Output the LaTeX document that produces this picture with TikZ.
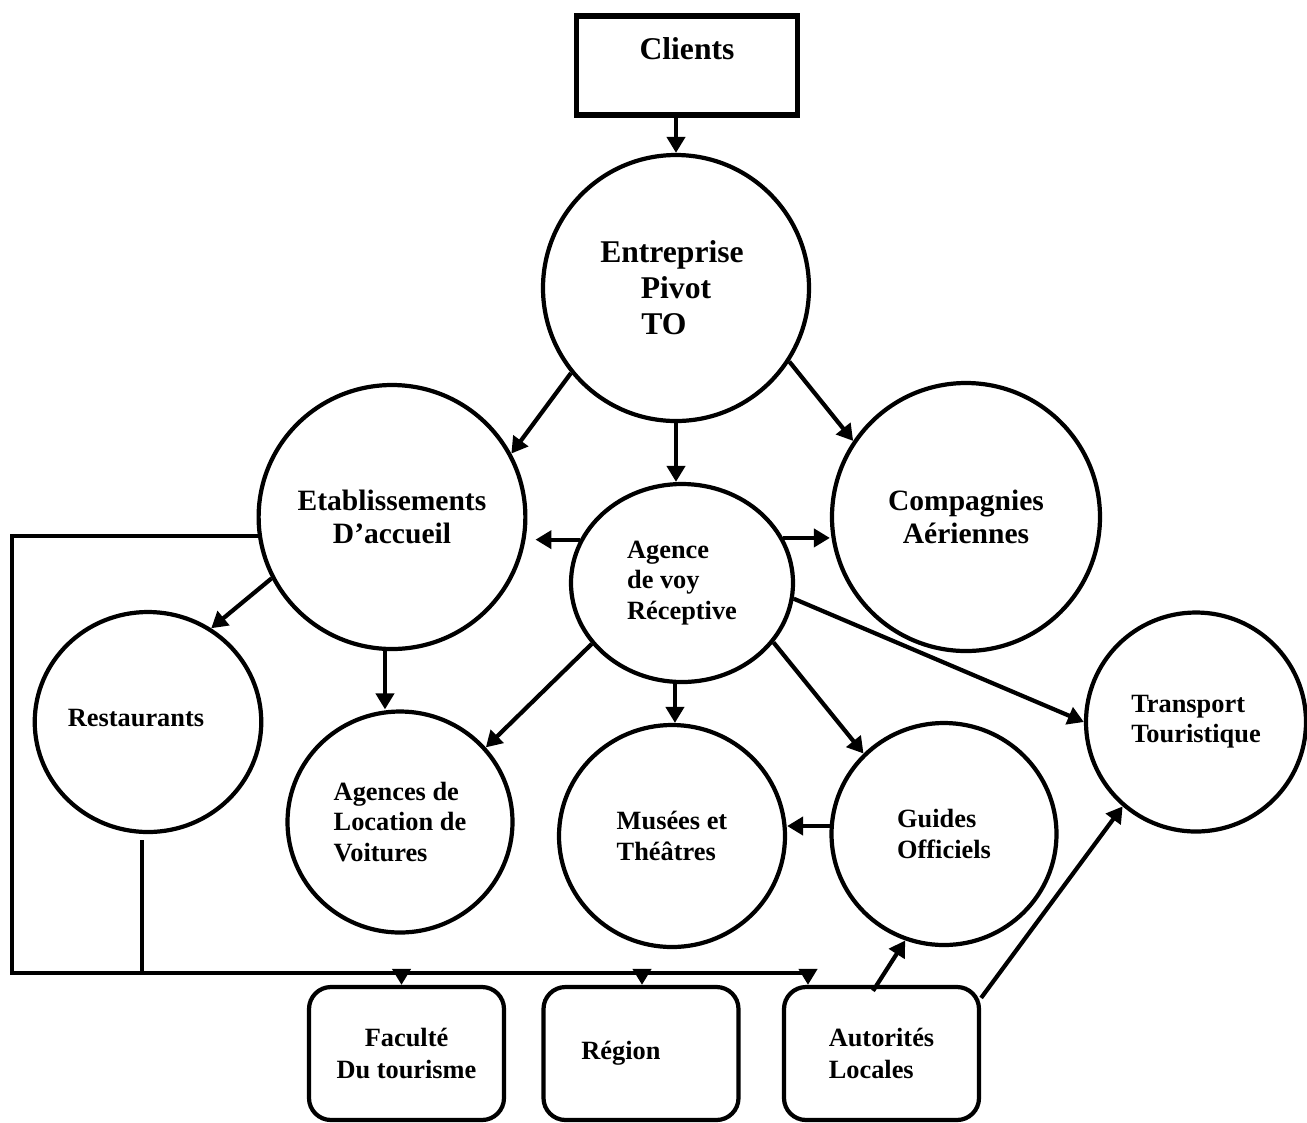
\documentclass[tikz,border=0pt]{standalone}
\usepackage{fontspec}
\setmainfont{Liberation Serif}
\usetikzlibrary{arrows.meta,shapes.geometric}

\begin{document}
\begin{tikzpicture}[line width=1.2pt,>={Triangle[length=1.6mm,width=1.8mm]},
  bulle/.style={draw,ellipse,inner sep=0pt,font=\bfseries},
  grand/.style={font=\bfseries\fontsize{9}{10.2}\selectfont},
  moyen/.style={font=\bfseries\fontsize{8.4}{9.5}\selectfont},
  petit/.style={font=\bfseries\fontsize{7.5}{8.6}\selectfont},
  boite/.style={draw,rounded corners=2.2mm,minimum width=1.95cm,minimum height=1.33cm,
    font=\bfseries\fontsize{7.5}{9.1}\selectfont}]
\useasboundingbox (0,0) rectangle (13.07,-11.22);

% le client et l'entreprise pivot
\node[draw,line width=1.7pt,minimum width=2.21cm,minimum height=0.99cm,text depth=0.33cm,grand]
  (cli) at (6.87,-0.655) {Clients};
\node[bulle,grand,align=center,minimum width=2.66cm,minimum height=2.66cm] (ent) at (6.76,-2.88)
  {Entreprise\hspace*{0.8mm}\\Pivot\hspace*{1.6mm}\\TO\hspace*{2.4mm}};

% premier cercle
\node[bulle,moyen,align=center,minimum width=2.66cm,minimum height=2.64cm] (etab) at (3.92,-5.17)
  {Etablissements\\D’accueil};
\node[bulle,moyen,align=center,minimum width=2.68cm,minimum height=2.68cm] (comp) at (9.66,-5.17)
  {Compagnies\\Aériennes};
\node[bulle,petit,align=left,minimum width=2.22cm,minimum height=1.98cm] (agv) at (6.82,-5.83)
  {Agence\\de voy\\Réceptive};

% prestataires
\node[bulle,petit,minimum width=2.26cm,minimum height=2.2cm] (rest) at (1.48,-7.22)
  {\raisebox{0.9mm}{Restaurants}\hspace*{2.4mm}};
\node[bulle,petit,align=left,minimum width=2.25cm,minimum height=2.21cm] (loc) at (4.0,-8.22)
  {Agences de\\Location de\\Voitures};
\node[bulle,petit,align=left,minimum width=2.26cm,minimum height=2.22cm] (mus) at (6.72,-8.36)
  {Musées et\\Théâtres};
\node[bulle,petit,align=left,minimum width=2.25cm,minimum height=2.22cm] (gui) at (9.44,-8.34)
  {Guides\\Officiels};
\node[bulle,petit,align=left,minimum width=2.2cm,minimum height=2.19cm] (trans) at (11.96,-7.22)
  {Transport\\Touristique};

% institutions
\node[boite,align=center] (fac) at (4.065,-10.535) {Faculté\\Du tourisme};
\node[boite] (reg) at (6.41,-10.535) {Région\hspace*{4mm}};
\node[boite,align=left] (aut) at (8.815,-10.535) {Autorités\\Locales};

\coordinate (bb) at (0.12,-9.73);

\draw[->] (cli.south -| ent) -- (ent.north);
\draw[->] (ent.219) -- (etab.28);
\draw[->] (ent.south) -- (ent.south |- agv.north);
\draw[->] (ent.327) -- (comp.146);
\draw[->,shorten >=0.8mm] (agv.157) -- (agv.157 -| etab.east);
\draw[->] (agv.24) -- (agv.24 -| comp.west);
\draw[->] (etab.207) -- (rest.56);
\draw[->] (etab.267) -- (etab.267 |- loc.north);
\draw[->] (agv.214) -- (loc.41);
\draw[->] (agv.266) -- (agv.266 |- mus.north);
\draw[->] (agv.327) -- (gui.135);
\draw[->] (agv.352) -- (trans.west);
\draw[->] (gui.176) -- (gui.176 -| mus.east);
\draw[->] ([xshift=-0.85mm,yshift=-0.6mm]aut.north) -- (gui.250);
\draw[->] ([yshift=-1.3mm]aut.north east) -- (trans.229);

% liaisons vers les institutions
\draw[->] (etab.188) -| (bb) -| ([xshift=-7.35mm]aut.north);
\draw ([xshift=-0.6mm,yshift=-0.6mm]rest.south) -- ([xshift=-0.6mm]rest.south |- bb);
\draw[->] ([xshift=-0.5mm]fac.north |- bb) -- ([xshift=-0.5mm]fac.north);
\draw[->] ([xshift=0.1mm]reg.north |- bb) -- ([xshift=0.1mm]reg.north);
\end{tikzpicture}
\end{document}
